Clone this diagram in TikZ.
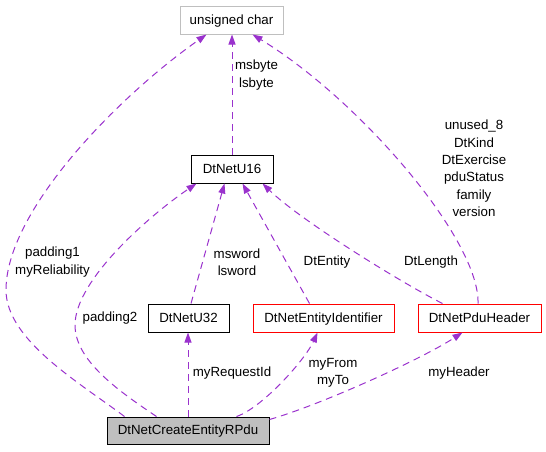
\documentclass[tikz,border=0pt]{standalone}
\usepackage{fontspec}
\setmainfont{Liberation Sans}
\usetikzlibrary{arrows.meta}
\definecolor{edgepurple}{HTML}{9A32CD}
\definecolor{boxgray}{HTML}{BFBFBF}
\begin{document}
\begin{tikzpicture}[x=1pt,y=-1pt,
  font=\fontsize{13.3}{17.4}\selectfont,
  cls/.style={draw=black, line width=1pt, inner sep=0pt, text height=9.6pt, text depth=1pt, minimum height=28pt},
  redcls/.style={cls, draw=red},
  lbl/.style={inner sep=0pt, align=center},
  rel/.style={draw=edgepurple, line width=1pt, dash pattern=on 7pt off 5pt, -{Triangle[length=10pt,width=7pt]}}
]
\useasboundingbox (0,0) rectangle (546,451);
% classes
\node[cls, draw=boxgray, minimum width=103pt] (uc) at (231.5,20) {unsigned char};
\node[cls, minimum width=82pt] (u16) at (232,169) {DtNetU16};
\node[cls, minimum width=81pt] (u32) at (188.5,318) {DtNetU32};
\node[redcls, minimum width=141pt] (eid) at (323.5,318) {DtNetEntityIdentifier};
\node[redcls, minimum width=123pt] (pdu) at (479.5,318) {DtNetPduHeader};
\node[cls, fill=boxgray, minimum width=162pt, minimum height=27pt] (ce) at (188,430.5) {DtNetCreateEntityRPdu};
% relations
\draw[rel] ([xshift=18pt]ce.north west) .. controls (80,383) and (6,340) .. (6,290)
  .. controls (6,210) and (120,95) .. ([xshift=27pt]uc.south west);
\draw[rel] ([xshift=50pt]ce.north west) .. controls (117,390) and (75,360) .. (75,325)
  .. controls (75,280) and (150,215) .. ([xshift=6pt]u16.south west);
\draw[rel] (u16.north) -- (u16.north |- uc.south);
\draw[rel] ([xshift=2.5pt]u32.north) -- ([xshift=34pt]u16.south west);
\draw[rel] ([xshift=57pt]eid.north west) -- ([xshift=52pt]u16.south west);
\draw[rel] ([xshift=25pt]pdu.north west) .. controls (400,282) and (300,220) .. ([xshift=-11pt]u16.south east);
\draw[rel] ([xshift=-1.5pt]pdu.north) .. controls (480,240) and (360,100) .. ([xshift=73pt]uc.south west);
\draw[rel] (ce.north) -- (ce.north |- u32.south);
\draw[rel] ([xshift=130pt]ce.north west) .. controls (262,408) and (305,360) .. ([xshift=65pt]eid.south west);
\draw[rel] ([yshift=-3pt]ce.north east) .. controls (320,405) and (420,360) .. ([xshift=45pt]pdu.south west);
% labels
\node[lbl] (lmsb) at (256.5,75) {msbyte\\lsbyte};
\node[lbl] (lpdu) at (474,168.5) {unused\_8\\DtKind\\DtExercise\\pduStatus\\family\\version};
\node[lbl] (lpad1) at (52.5,262) {padding1\\myReliability};
\node[lbl] (lpad2) at (110,318) {padding2};
\node[lbl] (lmsw) at (237,262) {msword\\lsword};
\node[lbl] (lent) at (327,262) {DtEntity};
\node[lbl] (llen) at (431,262) {DtLength};
\node[lbl] (lreq) at (232,373) {myRequestId};
\node[lbl] (lfrom) at (333,373) {myFrom\\myTo};
\node[lbl] (lhead) at (459,373) {myHeader};
\end{tikzpicture}
\end{document}
